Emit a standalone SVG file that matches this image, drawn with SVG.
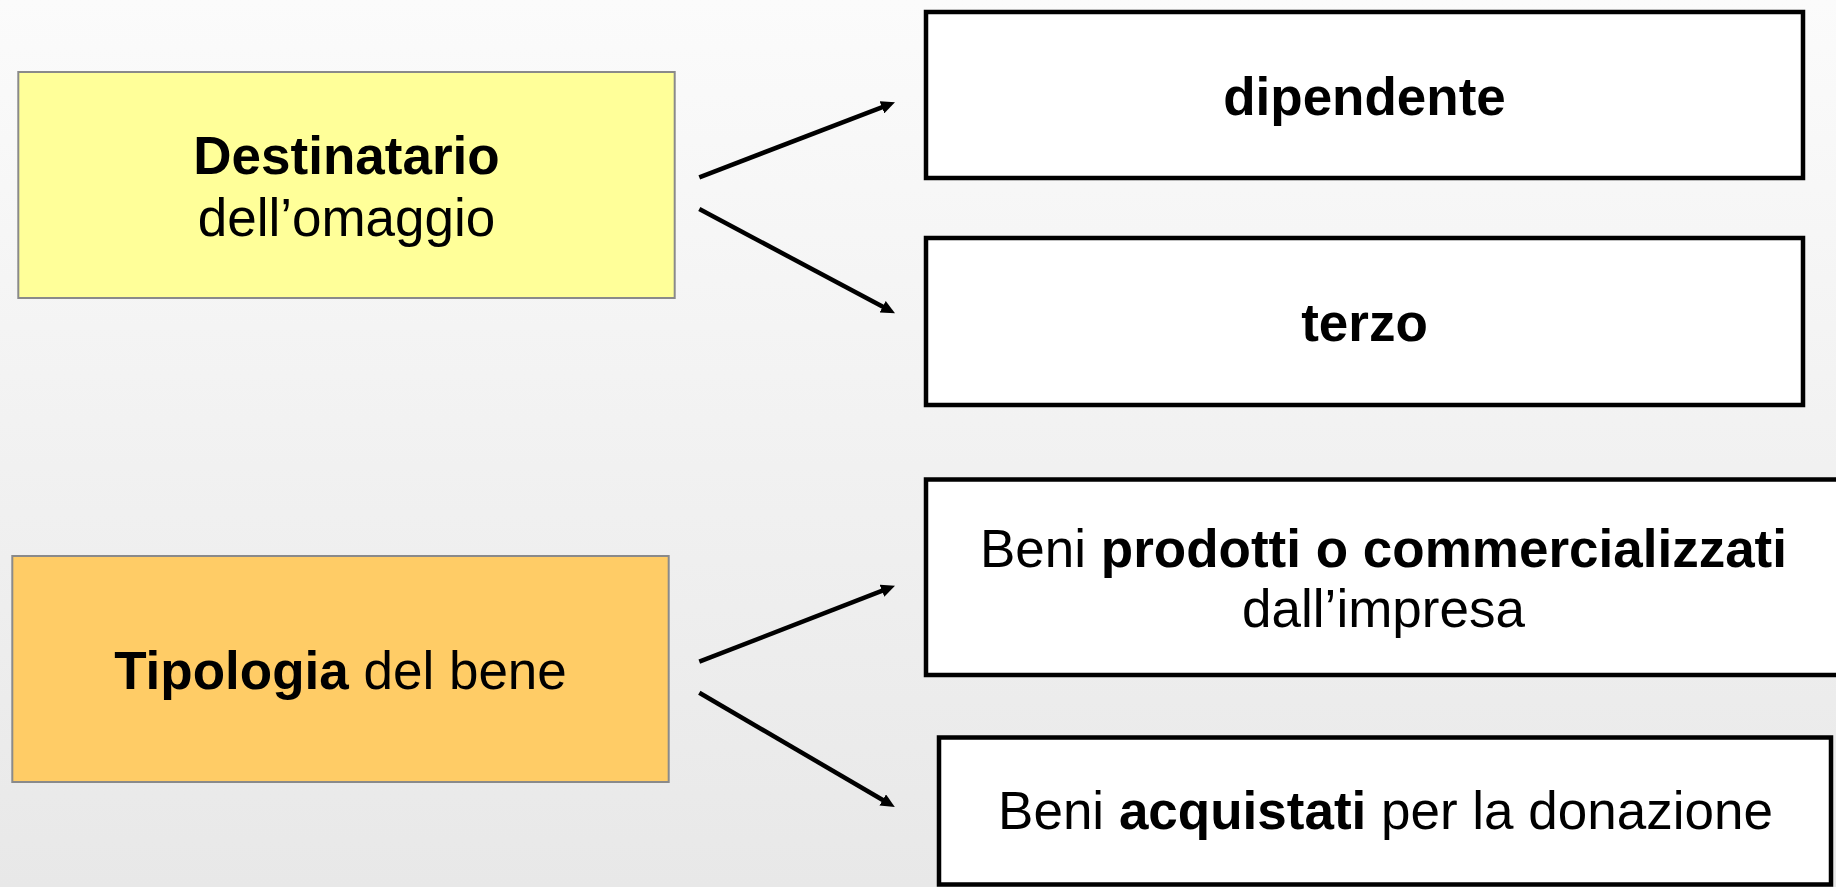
<svg xmlns="http://www.w3.org/2000/svg" width="1836" height="887" viewBox="0 0 1836 887">
  <defs>
    <linearGradient id="bg" x1="0" y1="0" x2="0" y2="1">
      <stop offset="0" stop-color="#fbfbfb"/>
      <stop offset="1" stop-color="#e8e8e8"/>
    </linearGradient>
    <marker id="arrow" markerUnits="userSpaceOnUse" markerWidth="14" markerHeight="13" viewBox="0 0 14 13" refX="4" refY="6.5" orient="auto">
      <path d="M0,0 L14,6.5 L0,13 z" fill="#000"/>
    </marker>
    <style>
      .src { stroke: #8a8a8a; stroke-width: 2; }
      .dst { fill: #ffffff; stroke: #000000; stroke-width: 4.5; }
      .conn { stroke: #000000; stroke-width: 4.5; fill: none; marker-end: url(#arrow); }
      text { font-family: "Liberation Sans", Arial, Helvetica, sans-serif; font-size: 53px; fill: #000000; text-anchor: middle; }
      .b { font-weight: bold; }
    </style>
  </defs>
  <rect x="0" y="0" width="1836" height="887" fill="url(#bg)"/>

  <g id="destinatario">
    <rect class="src" x="18.3" y="72" width="656.4" height="226" fill="#ffff99"/>
    <text x="346.5" y="174" class="b">Destinatario</text>
    <text x="346.5" y="236">dell’omaggio</text>
  </g>

  <g id="tipologia">
    <rect class="src" x="12.3" y="556" width="656.4" height="226" fill="#ffcc66"/>
    <text x="340.5" y="689"><tspan class="b">Tipologia</tspan> del bene</text>
  </g>

  <g id="dipendente">
    <rect class="dst" x="926" y="12" width="877" height="166"/>
    <text x="1364.5" y="115" class="b">dipendente</text>
  </g>

  <g id="terzo">
    <rect class="dst" x="926" y="238" width="877" height="167"/>
    <text x="1364.5" y="341" class="b">terzo</text>
  </g>

  <g id="beni-prodotti">
    <rect class="dst" x="926" y="479.5" width="930" height="195.5"/>
    <text x="1383.5" y="567">Beni <tspan class="b">prodotti o commercializzati</tspan></text>
    <text x="1383.5" y="627">dall’impresa</text>
  </g>

  <g id="beni-acquistati">
    <rect class="dst" x="939" y="737.5" width="892" height="147"/>
    <text x="1385.5" y="829">Beni <tspan class="b">acquistati</tspan> per la donazione</text>
  </g>

  <g id="connectors">
    <line class="conn" x1="699.3" y1="177.3" x2="885.66" y2="105.88"/>
    <line class="conn" x1="699.3" y1="209" x2="886.18" y2="308.6"/>
    <line class="conn" x1="699.3" y1="661.7" x2="885.68" y2="589.3"/>
    <line class="conn" x1="699.3" y1="692.7" x2="886.18" y2="802.0"/>
  </g>
</svg>
